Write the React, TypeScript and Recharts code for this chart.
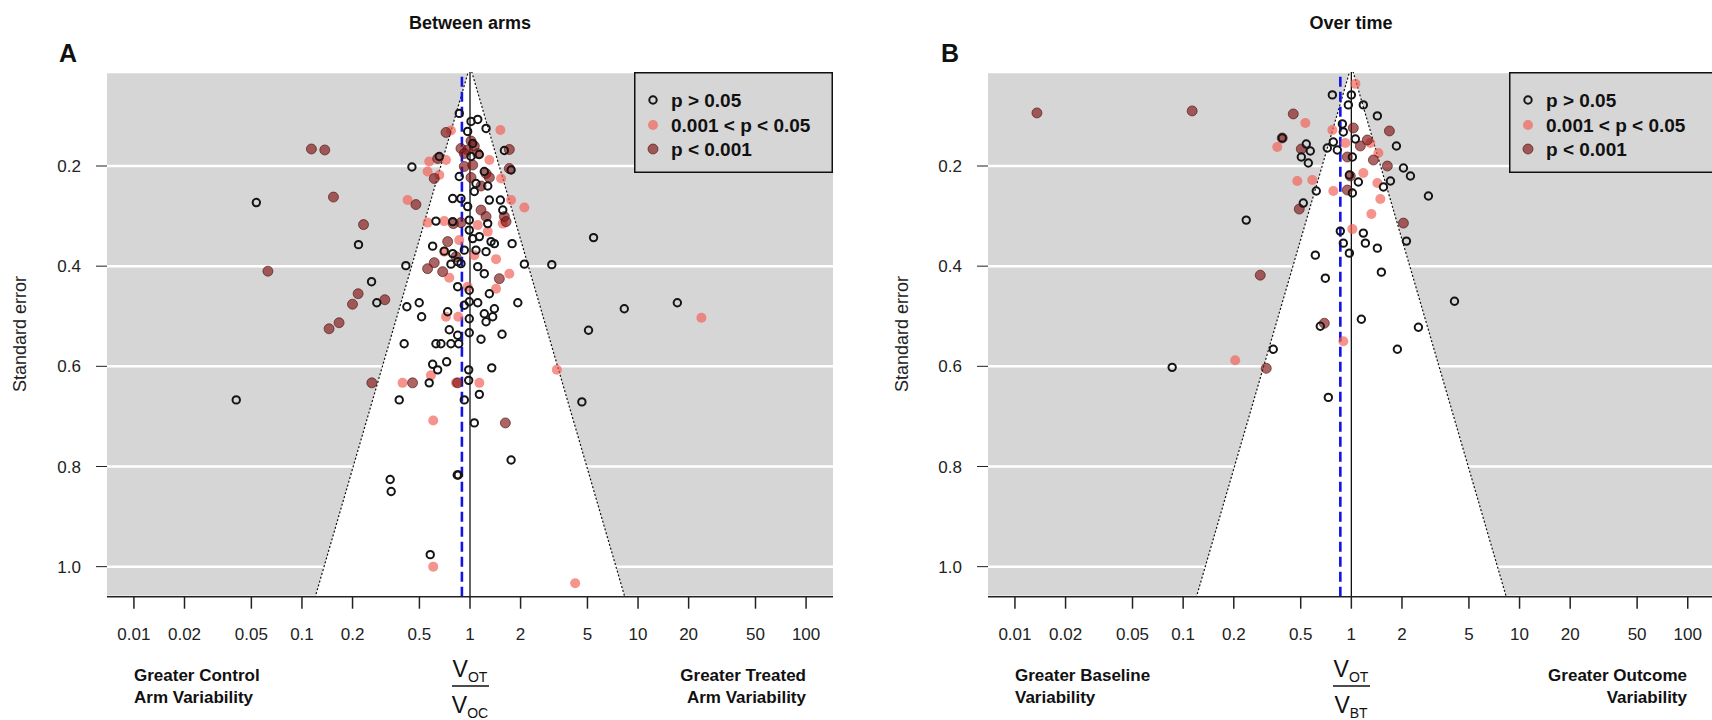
import React from "react";
import {
  ScatterChart,
  Scatter,
  XAxis,
  YAxis,
  CartesianGrid,
  ReferenceLine,
  Legend,
} from "recharts";

// each point: [ln variability ratio, standard error]
type Pt = [number, number];

const ratioTicks = ["0.01", "0.02", "0.05", "0.1", "0.2", "0.5", "1", "2", "5", "10", "20", "50", "100"];
const seTicks = [0.2, 0.4, 0.6, 0.8, 1.0];
const legendLabels = ["p > 0.05", "0.001 < p < 0.05", "p < 0.001"];

// funnel limits: +/- 2 standard errors around ln(VR) = 0
const funnelSe = [1.3, 0, 1.3];
const funnelZ = [-2, 0, 2];

// pooled ratios (blue dashed lines)
const pooledArms = 0.895;
const pooledTime = 0.86;

const armsNotSig: Pt[] = [
  [-0.147, 0.095], [0.014, 0.111], [0.106, 0.107], [0.22, 0.125], [-0.032, 0.131], [0.037, 0.155],
  [0.014, 0.181], [0.471, 0.169], [-0.421, 0.181], [-0.796, 0.202], [0.563, 0.208], [-0.147, 0.221],
  [0.196, 0.211], [0.128, 0.177], [0.082, 0.235], [0.243, 0.24], [0.059, 0.251], [-2.928, 0.273],
  [-0.237, 0.265], [-0.124, 0.265], [0.265, 0.268], [0.416, 0.268], [-0.032, 0.281], [0.449, 0.288],
  [-0.01, 0.308], [-0.467, 0.31], [-0.237, 0.311], [0.243, 0.315], [-0.01, 0.328], [0.128, 0.341],
  [1.693, 0.343], [0.037, 0.345], [-1.528, 0.357], [-0.512, 0.36], [0.288, 0.351], [0.334, 0.355],
  [0.577, 0.355], [-0.353, 0.37], [-0.237, 0.375], [-0.078, 0.368], [0.082, 0.368], [0.22, 0.371],
  [-0.879, 0.399], [-0.169, 0.391], [-0.124, 0.395], [-0.261, 0.396], [0.106, 0.401], [0.196, 0.415],
  [0.745, 0.396], [1.121, 0.397], [-1.349, 0.431], [-0.169, 0.441], [-0.01, 0.448], [0.265, 0.455],
  [-1.277, 0.473], [-0.696, 0.473], [-0.865, 0.481], [0.655, 0.473], [2.114, 0.485], [2.841, 0.473],
  [-0.306, 0.491], [-0.078, 0.478], [-0.01, 0.471], [0.106, 0.473], [0.334, 0.485], [-0.663, 0.501],
  [-0.01, 0.505], [0.196, 0.495], [0.311, 0.501], [0.22, 0.511], [-0.284, 0.527], [-0.169, 0.538],
  [-0.01, 0.533], [0.151, 0.546], [0.439, 0.536], [1.624, 0.528], [-0.902, 0.555], [-0.467, 0.555],
  [-0.398, 0.555], [-0.261, 0.555], [-0.155, 0.555], [-0.512, 0.596], [-0.32, 0.591], [-0.443, 0.607],
  [-0.018, 0.607], [0.298, 0.603], [-0.018, 0.628], [-0.559, 0.633], [-3.203, 0.667], [-0.97, 0.667],
  [-0.078, 0.667], [0.128, 0.656], [1.533, 0.671], [0.059, 0.713], [0.563, 0.787], [-1.094, 0.826],
  [-1.08, 0.85], [-0.175, 0.817], [-0.16, 0.817], [-0.545, 0.976],
];

const armsModSig: Pt[] = [
  [0.416, 0.128], [-0.261, 0.129], [-0.559, 0.191], [-0.329, 0.188], [0.265, 0.188], [-0.581, 0.211],
  [-0.421, 0.218], [0.426, 0.225], [-0.855, 0.268], [0.563, 0.268], [0.745, 0.283], [-0.581, 0.313],
  [-0.353, 0.31], [0.106, 0.318], [0.449, 0.315], [0.243, 0.331], [-0.147, 0.348], [-0.353, 0.371],
  [0.059, 0.378], [0.357, 0.386], [-0.284, 0.423], [0.539, 0.415], [-0.032, 0.441], [0.357, 0.445],
  [-0.329, 0.501], [-0.161, 0.501], [3.171, 0.503], [1.19, 0.607], [-0.535, 0.618], [-0.924, 0.633],
  [-0.192, 0.633], [0.128, 0.633], [-0.504, 0.708], [-0.504, 1.0], [1.441, 1.033],
];

const armsHighSig: Pt[] = [
  [-0.329, 0.133], [-2.173, 0.166], [-1.99, 0.168], [-0.124, 0.165], [-0.032, 0.168], [-0.078, 0.175],
  [0.106, 0.175], [0.539, 0.167], [0.014, 0.15], [0.059, 0.16], [-0.443, 0.185], [-0.078, 0.201],
  [0.037, 0.198], [0.539, 0.205], [-0.49, 0.225], [0.22, 0.215], [0.014, 0.223], [0.265, 0.223],
  [0.151, 0.24], [-1.871, 0.262], [-0.741, 0.277], [0.151, 0.288], [0.471, 0.301], [0.494, 0.311],
  [0.22, 0.301], [-1.459, 0.317], [-0.124, 0.313], [-0.229, 0.315], [-0.306, 0.351], [-0.192, 0.381],
  [-2.769, 0.41], [-0.49, 0.393], [-0.581, 0.405], [-0.375, 0.411], [0.402, 0.425], [-1.533, 0.455],
  [-1.167, 0.467], [-1.61, 0.476], [-1.794, 0.513], [-1.931, 0.525], [-1.345, 0.633], [-0.787, 0.633],
  [-0.169, 0.633], [0.485, 0.713],
];

const timeNotSig: Pt[] = [
  [-0.617, 0.156], [-0.562, 0.17], [-0.685, 0.182], [-0.589, 0.194], [-0.329, 0.164], [-0.946, 0.144],
  [-0.48, 0.25], [-0.658, 0.274], [-1.439, 0.308], [-0.493, 0.378], [-0.356, 0.424], [-0.425, 0.52],
  [-1.069, 0.566], [-2.453, 0.602], [-0.315, 0.662], [-0.26, 0.058], [0.0, 0.058], [-0.041, 0.078],
  [0.164, 0.078], [0.356, 0.1], [-0.247, 0.152], [-0.123, 0.116], [-0.11, 0.132], [0.055, 0.146],
  [0.617, 0.16], [0.713, 0.204], [0.809, 0.22], [-0.192, 0.168], [0.014, 0.182], [-0.027, 0.218],
  [0.096, 0.232], [0.535, 0.23], [0.439, 0.242], [0.014, 0.254], [1.055, 0.26], [-0.151, 0.33],
  [0.164, 0.334], [-0.11, 0.354], [0.192, 0.354], [0.754, 0.35], [0.356, 0.364], [-0.027, 0.374],
  [0.411, 0.412], [1.412, 0.47], [0.137, 0.506], [0.918, 0.522], [0.63, 0.566],
];

const timeModSig: Pt[] = [
  [-0.63, 0.114], [-1.014, 0.162], [-0.74, 0.23], [-0.535, 0.228], [-1.59, 0.588], [0.055, 0.036],
  [-0.26, 0.128], [-0.082, 0.154], [0.26, 0.154], [0.37, 0.174], [0.164, 0.214], [0.356, 0.234],
  [-0.247, 0.25], [0.397, 0.266], [0.274, 0.296], [0.014, 0.326], [-0.11, 0.55],
];

const timeHighSig: Pt[] = [
  [-4.304, 0.094], [-2.179, 0.09], [-0.795, 0.096], [-0.946, 0.144], [-0.685, 0.166], [-0.713, 0.286],
  [-1.247, 0.418], [-1.165, 0.604], [-0.37, 0.514], [0.027, 0.124], [0.219, 0.148], [0.123, 0.16],
  [0.521, 0.13], [0.302, 0.188], [0.493, 0.2], [-0.055, 0.182], [-0.014, 0.22], [-0.055, 0.248],
  [0.713, 0.314],
];

const FONT = "'Liberation Sans', Arial, Helvetica, sans-serif";
const GRAY = "#d6d6d6";
const X_EXT = 4.974; // ln(100) plus R's 4% padding
const SE_MIN = 0.0123;
const SE_MAX = 1.06;

const tickVals = ratioTicks.map((t) => Math.log(parseFloat(t)));
const toPts = (arr: Pt[]) => arr.map(([x, y]) => ({ x, y }));
const funnelPts = funnelSe.map((se, i) => ({ x: funnelZ[i] * se, y: se }));

const LIGHT = "rgba(240,96,86,0.68)";
const DARK = "rgba(128,22,22,0.66)";

const openDot = (p: any) =>
  p.cx == null ? <g /> : <circle cx={p.cx} cy={p.cy} r={3.7} fill="none" stroke="#151515" strokeWidth={2} />;
const lightDot = (p: any) =>
  p.cx == null ? <g /> : <circle cx={p.cx} cy={p.cy} r={5} fill={LIGHT} stroke="none" />;
const darkDot = (p: any) =>
  p.cx == null ? <g /> : <circle cx={p.cx} cy={p.cy} r={5} fill={DARK} stroke="rgba(80,10,10,0.6)" strokeWidth={1} />;

const renderFunnel = (p: any) => {
  const pts = p.points || [];
  if (pts.length < 3) return <g />;
  const d = pts.map((q: any, i: number) => `${i === 0 ? "M" : "L"}${q.x},${q.y}`).join(" ");
  return (
    <g>
      <path d={d + " Z"} fill="#fff" stroke="none" />
      <path d={d} fill="none" stroke="#111" strokeWidth={1.2} strokeDasharray="2 2" />
    </g>
  );
};

function LegendBox({ width }: { width: number }) {
  const symbols = [
    <circle key="a" cx={19} cy={28} r={3.7} fill="none" stroke="#151515" strokeWidth={2} />,
    <circle key="b" cx={19} cy={53} r={5} fill={LIGHT} />,
    <circle key="c" cx={19} cy={77} r={5} fill={DARK} stroke="rgba(80,10,10,0.6)" />,
  ];
  return (
    <svg width={width} height={101} style={{ display: "block" }}>
      <rect x={0.75} y={0.75} width={width - 1.5} height={99.5} fill={GRAY} stroke="#111" strokeWidth={1.5} />
      {symbols}
      {legendLabels.map((t, i) => (
        <text key={t} x={37} y={[28, 53, 77][i] + 7} fontSize={19} fontWeight="bold" fontFamily={FONT} fill="#111">
          {t}
        </text>
      ))}
    </svg>
  );
}

interface PanelProps {
  left: number;
  width: number;
  marginLeft: number;
  marginRight: number;
  notSig: Pt[];
  modSig: Pt[];
  highSig: Pt[];
  pooled: number;
  legendLeft: number;
  legendWidth: number;
}

function FunnelPanel(props: PanelProps) {
  const { left, width, marginLeft, marginRight, notSig, modSig, highSig, pooled, legendLeft, legendWidth } = props;
  return (
    <div style={{ position: "absolute", left, top: 0 }}>
      <ScatterChart
        width={width}
        height={720}
        margin={{ top: 72, right: marginRight, bottom: 63.3, left: marginLeft }}
      >
        <CartesianGrid vertical={false} stroke="#fff" strokeWidth={2.5} fill={GRAY} fillOpacity={1} />
        <XAxis
          type="number"
          dataKey="x"
          domain={[-X_EXT, X_EXT]}
          allowDataOverflow
          ticks={tickVals}
          interval={0}
          tickFormatter={(v: number) => ratioTicks[tickVals.findIndex((t) => Math.abs(t - v) < 1e-6)] ?? ""}
          tickSize={12}
          tickMargin={19}
          height={60}
          stroke="#222"
          strokeWidth={1.5}
          tick={{ fontSize: 17, fill: "#222", fontFamily: FONT }}
        />
        <YAxis
          type="number"
          dataKey="y"
          domain={[SE_MIN, SE_MAX]}
          reversed
          allowDataOverflow
          ticks={seTicks}
          interval={0}
          tickFormatter={(v: number) => v.toFixed(1)}
          axisLine={false}
          tickSize={11}
          tickMargin={15}
          width={40}
          stroke="#222"
          tick={{ fontSize: 17, fill: "#222", fontFamily: FONT }}
        />
        <Scatter
          data={funnelPts}
          shape={() => <g />}
          line={renderFunnel}
          lineType="joint"
          legendType="none"
          zIndex={-50}
          isAnimationActive={false}
        />
        <ReferenceLine x={0} stroke="#111" strokeWidth={1.3} />
        <ReferenceLine x={Math.log(pooled)} stroke="#1414e6" strokeWidth={2.6} strokeDasharray="10 5" />
        <Scatter data={toPts(modSig)} shape={lightDot} isAnimationActive={false} />
        <Scatter data={toPts(highSig)} shape={darkDot} isAnimationActive={false} />
        <Scatter data={toPts(notSig)} shape={openDot} isAnimationActive={false} />
        <Legend
          layout="vertical"
          align="center"
          verticalAlign="middle"
          content={() => <LegendBox width={legendWidth} />}
          wrapperStyle={{ left: legendLeft, top: 72, width: legendWidth, height: 101, bottom: "auto", right: "auto" }}
        />
      </ScatterChart>
    </div>
  );
}

function Fraction({ x, sub1, sub2 }: { x: number; sub1: string; sub2: string }) {
  return (
    <g fontFamily={FONT} fill="#111">
      <text x={x} y={677} textAnchor="middle">
        <tspan fontSize={23}>V</tspan>
        <tspan fontSize={14} dy={5}>{sub1}</tspan>
      </text>
      <line x1={x - 18} x2={x + 19} y1={686} y2={686} stroke="#111" strokeWidth={1.5} />
      <text x={x} y={713} textAnchor="middle">
        <tspan fontSize={23}>V</tspan>
        <tspan fontSize={14} dy={5}>{sub2}</tspan>
      </text>
    </g>
  );
}

export default function App() {
  return (
    <div
      style={{
        position: "absolute",
        left: 0,
        top: 0,
        width: 1712,
        height: 720,
        overflow: "hidden",
        background: "#fff",
        fontFamily: FONT,
      }}
    >
      <FunnelPanel
        left={0}
        width={856}
        marginLeft={67}
        marginRight={23}
        notSig={armsNotSig}
        modSig={armsModSig}
        highSig={armsHighSig}
        pooled={pooledArms}
        legendLeft={634}
        legendWidth={199}
      />
      <FunnelPanel
        left={856}
        width={870}
        marginLeft={92}
        marginRight={11.3}
        notSig={timeNotSig}
        modSig={timeModSig}
        highSig={timeHighSig}
        pooled={pooledTime}
        legendLeft={653}
        legendWidth={206}
      />
      <svg
        width={1712}
        height={720}
        style={{ position: "absolute", left: 0, top: 0, pointerEvents: "none" }}
        fontFamily={FONT}
      >
        <text x={470} y={29} textAnchor="middle" fontSize={18} fontWeight="bold" fill="#111">Between arms</text>
        <text x={1351} y={29} textAnchor="middle" fontSize={18} fontWeight="bold" fill="#111">Over time</text>
        <text x={68} y={62} textAnchor="middle" fontSize={25} fontWeight="bold" fill="#111">A</text>
        <text x={950} y={62} textAnchor="middle" fontSize={25} fontWeight="bold" fill="#111">B</text>
        <text transform="translate(26,334) rotate(-90)" textAnchor="middle" fontSize={18} fill="#222">Standard error</text>
        <text transform="translate(908,334) rotate(-90)" textAnchor="middle" fontSize={18} fill="#222">Standard error</text>

        <g fontSize={17} fontWeight="bold" fill="#111">
          <text x={134} y={681}>Greater Control</text>
          <text x={134} y={703}>Arm Variability</text>
          <text x={806} y={681} textAnchor="end">Greater Treated</text>
          <text x={806} y={703} textAnchor="end">Arm Variability</text>
          <text x={1015} y={681}>Greater Baseline</text>
          <text x={1015} y={703}>Variability</text>
          <text x={1687} y={681} textAnchor="end">Greater Outcome</text>
          <text x={1687} y={703} textAnchor="end">Variability</text>
        </g>
        <Fraction x={470} sub1="OT" sub2="OC" />
        <Fraction x={1351} sub1="OT" sub2="BT" />
      </svg>
    </div>
  );
}
